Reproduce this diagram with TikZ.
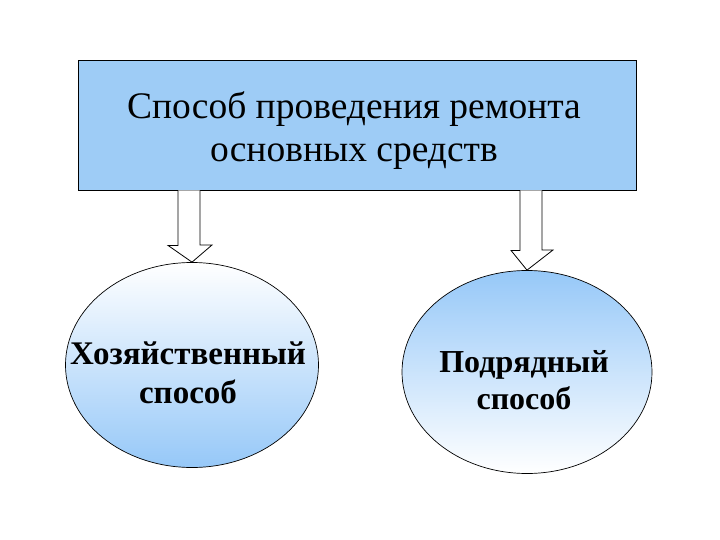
\documentclass[tikz,border=0pt]{standalone}
\usepackage{fontspec}
\setmainfont{Liberation Serif}
\usetikzlibrary{shapes.geometric}
\definecolor{boxblue}{RGB}{158,204,246}
\definecolor{ellblue}{RGB}{150,200,248}
\tikzset{
  topbox/.style={draw=black, line width=0.8pt, fill=boxblue, minimum width=558pt, minimum height=130pt, inner sep=0pt},
  boxtext/.style={align=center, inner sep=0pt, font=\fontsize{37.5}{43}\selectfont},
  oval/.style={ellipse, draw=black, line width=0.7pt, inner sep=0pt},
  ovaltext/.style={align=center, inner sep=0pt, font=\bfseries\fontsize{33}{39}\selectfont},
  hollowarrow/.style={draw=black, line width=0.8pt, fill=white, line join=miter}
}
\begin{document}
\begin{tikzpicture}[x=1pt,y=-1pt]
\useasboundingbox (0,0) rectangle (720,540);
\node[topbox] (box) at (357,125) {};
\node[boxtext] (boxt) at (354,131) {Способ проведения ремонта\\основных средств};
\node[oval, minimum width=253pt, minimum height=205pt, top color=white, bottom color=ellblue] (left) at (192,365) {};
\node[ovaltext] (leftt) at (188,373) {Хозяйственный\\способ};
\node[oval, minimum width=250pt, minimum height=203pt, top color=ellblue, bottom color=white] (right) at (527,372) {};
\node[ovaltext, font=\bfseries\fontsize{32}{37}\selectfont] (rightt) at (524,380) {Подрядный\\способ};
% arrows
\coordinate (la) at (box.south -| 189,0);
\coordinate (ra) at (box.south -| 531,0);
\draw[hollowarrow] ([xshift=-11pt]la) -- ++(0,55) -- ++(-10,0) -- (left.north) -- ([xshift=23pt]la |- 0,245) -- ++(-12,0) -- ([xshift=11pt]la);
\draw[hollowarrow] ([xshift=-11pt]ra) -- ++(0,60) -- ++(-9,0) -- (right.north) -- ([xshift=22pt]ra |- 0,250) -- ++(-11,0) -- ([xshift=11pt]ra);
\end{tikzpicture}
\end{document}
